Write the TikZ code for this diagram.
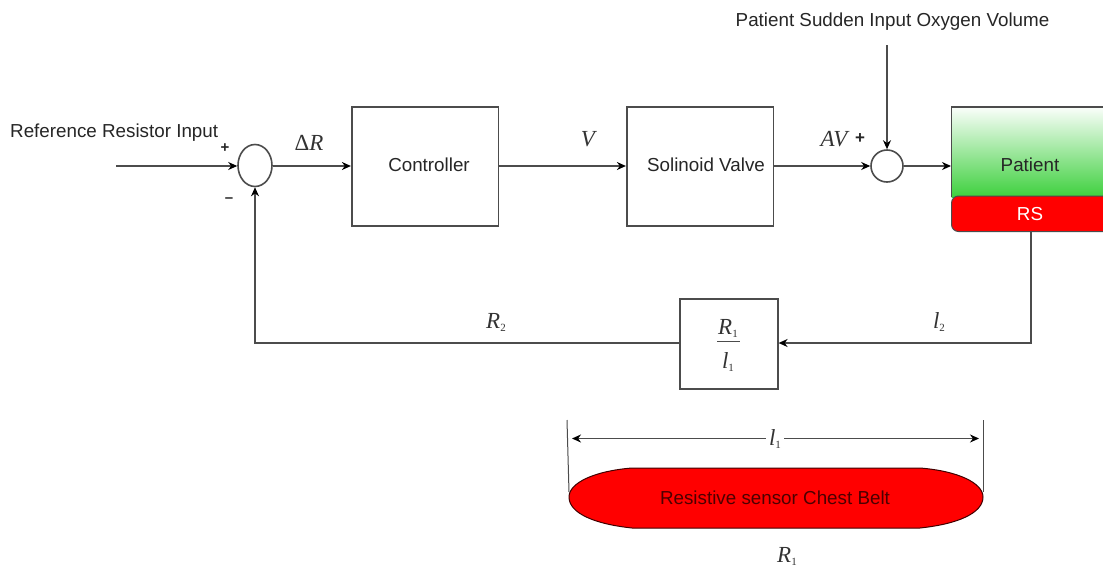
\documentclass[tikz,border=0pt]{standalone}
\usepackage{fontspec}
\setmainfont{Liberation Sans}
\newfontfamily\mathser{Liberation Serif}
\usetikzlibrary{arrows.meta,calc,shapes.geometric}
\definecolor{ln}{gray}{0.3}
\definecolor{gtop}{RGB}{250,254,250}
\definecolor{gbot}{RGB}{62,208,62}
\tikzset{
  x=1pt,y=-1pt,
  line/.style={draw=ln,line width=1.6pt},
  flow/.style={line,-{Stealth[length=9pt,width=8pt,black]}},
  blockbox/.style={draw=ln,line width=1.6pt,fill=white,inner sep=0pt,anchor=north west},
  sumc/.style={ellipse,draw=ln,line width=1.6pt,fill=white,inner sep=0pt},
  lab/.style={font=\fontsize{18.8}{21}\selectfont,text=black!85,inner sep=0pt},
  sym/.style={font=\mathser\itshape\fontsize{23}{25}\selectfont,text=black!80,inner sep=0pt}
}
\newcommand{\subi}{\raisebox{-3pt}{\mathser\upshape\fontsize{11}{12}\selectfont 1}}
\newcommand{\subii}{\raisebox{-3pt}{\mathser\upshape\fontsize{11}{12}\selectfont 2}}
\begin{document}
\begin{tikzpicture}
\useasboundingbox (0,0) rectangle (1103,568);
\fill[white] (0,0) rectangle (1103,568);
% blocks
\node[blockbox,minimum width=146.6pt,minimum height=119pt] (ctrl) at (350.9,106) {};
\node[lab] at (429,165) {Controller};
\node[blockbox,minimum width=146.6pt,minimum height=119pt] (valve) at (625.9,106) {};
\node[lab] at (706,165) {Solinoid Valve};
\node[blockbox,minimum width=98pt,minimum height=90pt] (gain) at (679,298) {};
\node[sumc,minimum width=34pt,minimum height=42pt] (s1) at (255,165.5) {};
\node[sumc,minimum width=32pt,minimum height=32pt] (s2) at (887,166) {};
% patient
\path[top color=gtop,bottom color=gbot] (951.5,107) rectangle (1106,197);
\draw[ln,line width=1.6pt] (1106,107) -- (951.5,107) -- (951.5,197);
\path[fill=red,draw=ln,line width=1pt,rounded corners=7pt] (1112,196) -- (951.5,196) -- (951.5,231.5) -- (1112,231.5);
\coordinate (pin) at (951,166);
\coordinate (pout) at (1031,232);
\node[lab] (ptxt) at (1030,165) {Patient};
\node[lab,text=white] (rstxt) at (1030,214) {RS};
% free ends
\coordinate (refin) at (116,166);
\coordinate (dist) at (887,45);
\coordinate (fbc) at (1031,343);
\coordinate (fbl) at (255,343);
% connectors
\draw[flow] (refin) -- (s1.west|-refin);
\draw[flow] (s1.east|-refin) -- (ctrl.west|-refin);
\draw[flow] (ctrl.east|-refin) -- (valve.west|-refin);
\draw[flow] (valve.east|-refin) -- (s2.west);
\draw[flow] (s2.east) -- (pin);
\draw[flow] (dist) -- (s2.north);
\draw[flow] (pout) -- (fbc) -- (gain.east|-fbc);
\draw[flow] (gain.west|-fbc) -- (fbl) -- (s1.south);
% labels
\node[lab,anchor=west] (t1) at (10,133) {Reference Resistor Input};
\node[lab,anchor=center] (t2) at (892.5,22) {Patient Sudden Input Oxygen Volume};
\node[lab,font=\bfseries\fontsize{15}{16}\selectfont] (plus1) at (225,148) {+};
\node[lab,font=\bfseries\fontsize{15}{16}\selectfont] (minus1) at (229,200) {–};
\node[lab,font=\bfseries\fontsize{17}{18}\selectfont] (plus2) at (860,139) {+};
\node[sym] (dr) at (309,143) {{\upshape Δ}R};
\node[sym] (v) at (588,139) {V};
\node[sym] (av) at (834,139) {AV};
\node[sym] (r2) at (496,322) {R\subii};
\node[sym] (l2) at (939,322) {l\subii};
% fraction
\node[sym] (fr) at (728,328) {R\subi};
\draw[ln,line width=1.6pt] (717,341.5) -- (740,341.5);
\node[sym] (fl) at (728,362) {l\subi};
% belt
\coordinate (dl) at (567,420);
\coordinate (dr2) at (983,420);
\path[fill=red,draw=black!75!red,line width=1pt] (632,468) -- (920,468) .. controls (958,471) and (983,483) .. (983,497) .. controls (983,513) and (958,524) .. (920,528) -- (632,528) .. controls (594,524) and (569,513) .. (569,497) .. controls (569,483) and (594,471) .. (632,468) -- cycle;
\node[lab,text=black!70!red] (belt) at (775,498) {Resistive sensor Chest Belt};
\draw[ln,line width=1pt] (dl) -- (569,492);
\draw[ln,line width=1pt] (dr2) -- (983,492);
\node[sym,fill=white,inner xsep=3pt] (l1) at (775,439) {l\subi};
\draw[line,{Stealth[length=9pt,width=8pt,black]}-] (572,438.5) -- (l1.west|-0,438.5);
\draw[line,-{Stealth[length=9pt,width=8pt,black]}] (l1.east|-0,438.5) -- (979,438.5);
\node[sym] (r1) at (787,556) {R\subi};
\end{tikzpicture}
\end{document}
